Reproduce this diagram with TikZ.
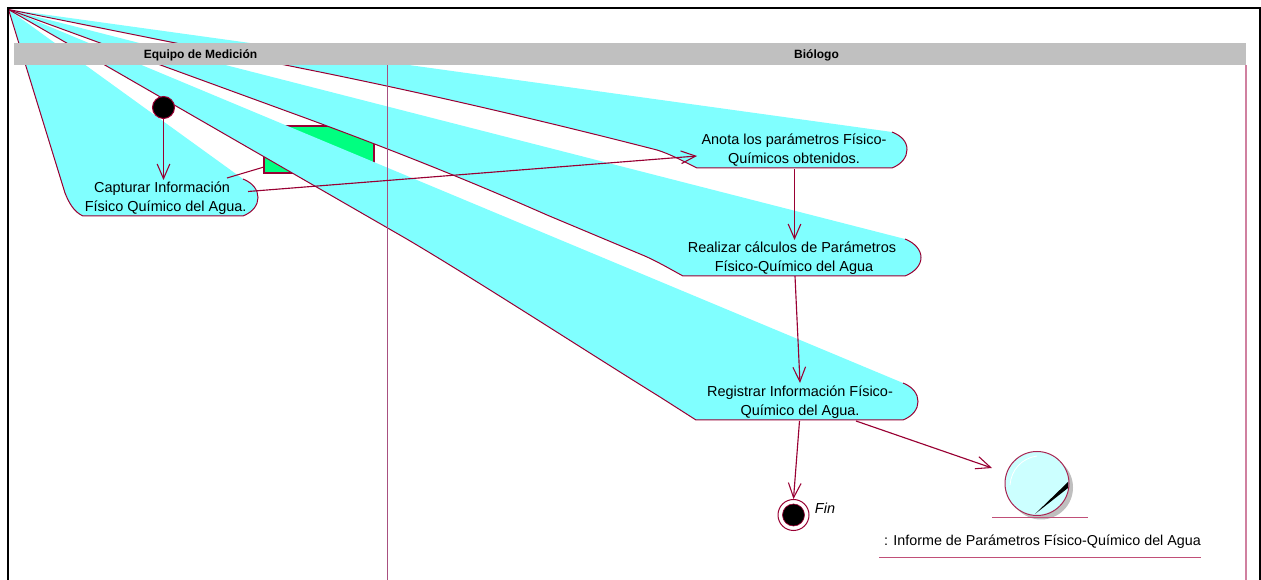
\documentclass[tikz,border=0pt]{standalone}
\usepackage{fontspec}
\setmainfont{Liberation Sans}
\usetikzlibrary{arrows.meta}
\definecolor{wedge}{HTML}{80FFFF}
\definecolor{maroon}{HTML}{990033}
\definecolor{lanecol}{HTML}{A85080}
\definecolor{lanepink}{HTML}{D080A0}
\definecolor{softline}{HTML}{C04F78}
\definecolor{hdr}{HTML}{C0C0C0}
\definecolor{notegreen}{HTML}{00FF80}
\definecolor{entityfill}{HTML}{CCFFFF}
\tikzset{
  x=0.75pt,y=-0.75pt,
  edgeline/.style={draw=maroon,line width=0.75pt},
  flow/.style={draw=maroon,line width=0.85pt,-{Straight Barb[length=11pt,width=9.5pt,line width=0.8pt]}},
  acttext/.style={font=\fontsize{10.85pt}{13.8pt}\selectfont,align=center,text=black,inner sep=0pt},
  hdrtext/.style={font=\bfseries\fontsize{9pt}{10pt}\selectfont,inner sep=0pt},
}
\begin{document}
\begin{tikzpicture}
\useasboundingbox (0,0) rectangle (1261,580);
\fill[white] (0,0) rectangle (1261,580);
\coordinate (apex) at (8.5,9.5);
% note behind the wedges
\draw[fill=notegreen,draw=maroon,line width=1pt] (264,126) rectangle (374,173);
% Wedges
\fill[wedge] (apex) -- (892,132) .. controls (902,136) and (907,142) .. (907,149.5) .. controls (907,157) and (902,164) .. (892,168) -- (697,168) .. controls (685,162) and (670,154) .. (657,150) .. controls (540,120) and (420,92) .. (300,68) -- cycle;
\fill[wedge] (apex) -- (905,239) .. controls (915,243) and (921,250) .. (921,257.5) .. controls (921,265) and (915,272) .. (905,276) -- (683,276) .. controls (670,269) and (655,260) .. (640,254) -- (547,215) .. controls (470,181) and (390,149) .. (300,116) -- cycle;
\fill[wedge] (apex) -- (903,383) .. controls (913,387) and (918,394) .. (918,401.5) .. controls (918,409) and (913,416) .. (903,420) -- (696,420) -- (660,397) .. controls (600,360) and (470,276) .. (405,238) -- cycle;
\fill[wedge] (apex) -- (243,179) .. controls (253,183) and (258,190) .. (258,197.5) .. controls (258,205) and (253,212) .. (243,216) -- (83,216) .. controls (74,212) and (69,203) .. (65,193) -- cycle;
% Wedge outlines
\draw[edgeline] (apex) -- (300,68) .. controls (420,92) and (540,120) .. (657,150) .. controls (670,154) and (685,162) .. (697,168) -- (892,168) .. controls (902,164) and (907,157) .. (907,149.5) .. controls (907,142) and (902,136) .. (892,132);
\draw[edgeline] (apex) -- (300,116) .. controls (390,149) and (470,181) .. (547,215) -- (640,254) .. controls (655,260) and (670,269) .. (683,276) -- (905,276) .. controls (915,272) and (921,265) .. (921,257.5) .. controls (921,250) and (915,243) .. (905,239);
\draw[edgeline] (apex) -- (405,238) .. controls (470,276) and (600,360) .. (660,397) -- (696,420) -- (903,420) .. controls (913,416) and (918,409) .. (918,401.5) .. controls (918,394) and (913,387) .. (903,383);
\draw[edgeline] (apex) -- (65,193) .. controls (69,203) and (74,212) .. (83,216) -- (243,216) .. controls (253,212) and (258,205) .. (258,197.5) .. controls (258,190) and (253,183) .. (243,179);
% Header and lanes
\fill[hdr] (14,43) rectangle (1246,65.5);
\draw[draw=lanecol,line width=0.85pt] (387.7,65.5) -- (387.7,580);
\draw[draw=lanepink,line width=1pt] (1246,65.5) -- (1246,580);
\node[hdrtext] (hA) at (200.5,55) {Equipo de Medición};
\node[hdrtext] (hB) at (816.5,55) {Biólogo};
% Frame
\draw[black,line width=1.5pt] (8.3,600) -- (8.3,8.4) -- (1260,8.4) -- (1260,600);
% Activity labels
\node[acttext] (capturar) at (162,198) {Capturar Información\\\hspace*{5.5pt}Físico Químico del Agua.};
\node[acttext] (anota) at (794,150) {Anota los parámetros Físico-\\Químicos obtenidos.};
\node[acttext] (realizar) at (792,258) {Realizar cálculos de Parámetros\\\hspace*{3pt}Físico-Químico del Agua};
\node[acttext] (registrar) at (800,402) {Registrar Información Físico-\\Químico del Agua.};
% Anchors
\coordinate (noteA) at (264,167);
\coordinate (capS) at (227,178);
\coordinate (capE) at (248,191.5);
\coordinate (anoW) at (697,156);
\coordinate (anoS) at (794.5,169);
\coordinate (reaN) at (794.5,240);
\coordinate (reaS) at (795,276);
\coordinate (regN) at (800,383);
\coordinate (regS) at (799.5,421);
\coordinate (regE) at (856,421);
\coordinate (entW) at (992,468);
\coordinate (startEnd) at (163.5,180);
\draw[maroon,line width=0.8pt] (capS) -- (noteA);
% Start and end
\node[circle,fill=black,draw=maroon,line width=0.75pt,minimum size=16.5pt,inner sep=0pt] (start) at (163.5,107.5) {};
\node[circle,draw=maroon,fill=white,line width=0.75pt,minimum size=23.25pt,inner sep=0pt] (fin) at (793.5,515) {};
\node[circle,fill=black,draw=maroon,line width=0.5pt,minimum size=16.5pt,inner sep=0pt] (finc) at (793.5,515) {};
\node[font=\itshape\fontsize{10.85pt}{12pt}\selectfont,inner sep=0pt] (finl) at (825,508) {Fin};
% Flows
\draw[flow] (start.south) -- (startEnd);
\draw[flow] (capE) -- (anoW);
\draw[flow] (anoS) -- (reaN);
\draw[flow] (reaS) -- (regN);
\draw[flow] (regS) -- (fin.north);
\draw[flow] (regE) -- (entW);
% Entity
\fill[black!25] (1041,487.5) circle[radius=32];
\node[circle,fill=entityfill,draw=maroon!85,line width=0.75pt,minimum size=48pt,inner sep=0pt] (entity) at (1037,483.5) {};
\fill[black] (1035,514) -- (1068,482) -- (1068,488) -- cycle;
\draw[white,line width=0.6pt] (1010,485) .. controls (1011,470) and (1022,458) .. (1037,456);
\draw[draw=softline,line width=0.75pt] (992,517.5) -- (1088,517.5);
\node[acttext,font=\fontsize{10.75pt}{13.8pt}\selectfont] (entl) at (1042.5,542) {: Informe de Parámetros Físico-Químico del Agua};
\draw[draw=softline,line width=0.75pt] (879,557.5) -- (1201,557.5);
\end{tikzpicture}
\end{document}
